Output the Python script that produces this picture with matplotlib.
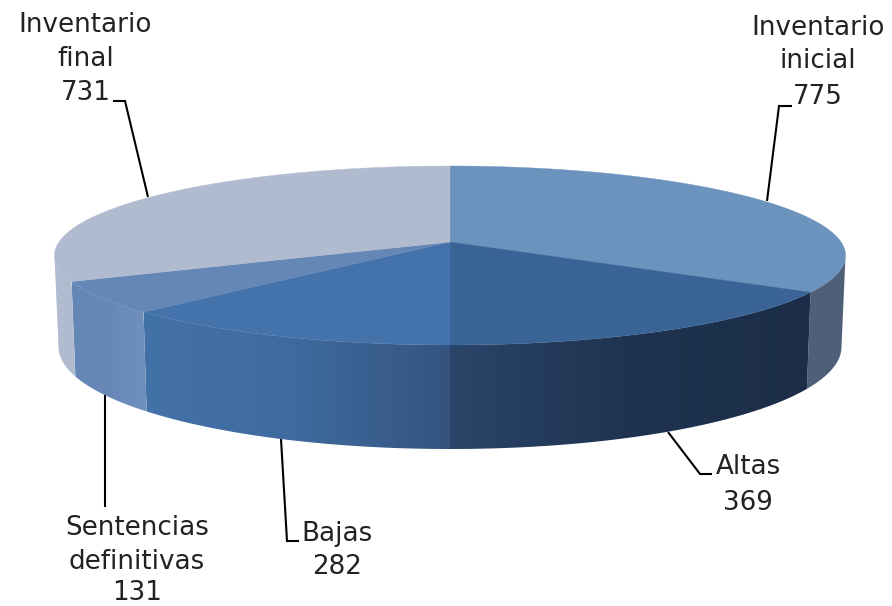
import numpy as np
import matplotlib
matplotlib.use("Agg")
import matplotlib.pyplot as plt
from matplotlib.patches import Polygon
from matplotlib.colors import LinearSegmentedColormap

# Data
categories = ["Inventario inicial", "Altas", "Bajas", "Sentencias definitivas", "Inventario final"]
values = [775, 369, 282, 131, 731]
top_colors = ["#6C93BE", "#3A6496", "#4472AA", "#6587B6", "#B1BBD0"]
wall_colors = [
    ["#4F5F78", "#505F79"],
    ["#2A4569", "#1F3350", "#1B2D48"],
    ["#4372A9", "#3F6A9E", "#34547F"],
    ["#6587B6", "#6889B8", "#7090BE"],
    ["#B3BDD1", "#B1BBD0"],
]
label_texts = [
    ["Inventario", "inicial", "775"],
    ["Altas", "369"],
    ["Bajas", "282"],
    ["Sentencias", "definitivas", "131"],
    ["Inventario", "final", "731"],
]

# Layout
W, H = 892, 606
CX = 450
C = 0.1508
TOP_A, TOP_B, TOP_K = -50.96, 242, 391
BOT_A, BOT_B, BOT_K = -49.8, 331.5, 387
VIS = np.degrees(np.arccos(-C))


def project(deg, a, b, k):
    t = np.radians(np.asarray(deg, dtype=float))
    u, v = np.sin(t), np.cos(t)
    d = 1 + C * v
    return CX + k * u / d, (a * v + b) / d


fig = plt.figure(figsize=(W / 100, H / 100), dpi=100)
ax = fig.add_axes([0, 0, 1, 1])
ax.axis("off")

edges = np.concatenate([[0], np.cumsum(values) / np.sum(values) * 360])

# Walls
for i in range(len(values)):
    a1, a2 = max(edges[i], VIS), min(edges[i + 1], 360 - VIS)
    if a2 <= a1:
        continue
    th = np.linspace(a1, a2, 160)
    x1, y1 = project(th, TOP_A, TOP_B, TOP_K)
    x2, y2 = project(th[::-1], BOT_A, BOT_B, BOT_K)
    pts = np.column_stack([np.r_[x1, x2], np.r_[y1, y2]])
    poly = Polygon(pts, closed=True, fc="none", ec="none", zorder=2)
    ax.add_patch(poly)
    xmin, xmax = pts[:, 0].min(), pts[:, 0].max()
    cmap = LinearSegmentedColormap.from_list("w%d" % i, wall_colors[i])
    g = np.linspace(0, 1, 256).reshape(1, -1)
    im = ax.imshow(g, cmap=cmap, extent=[xmin, xmax, pts[:, 1].max(), pts[:, 1].min()],
                   aspect="auto", zorder=2, interpolation="bilinear")
    im.set_clip_path(poly)

# Top face
for i in range(len(values)):
    th = np.linspace(edges[i], edges[i + 1], 200)
    x, y = project(th, TOP_A, TOP_B, TOP_K)
    pts = np.column_stack([np.r_[CX, x], np.r_[TOP_B, y]])
    ax.add_patch(Polygon(pts, closed=True, fc=top_colors[i], ec=top_colors[i], lw=0.3, zorder=3))

# Leader lines
leaders = [
    [(767, 201), (779, 106), (792, 106)],
    [(668, 432), (700, 474), (712, 474)],
    [(281, 439), (287, 541), (299, 541)],
    [(105, 393), (105, 507)],
    [(148, 197), (125, 101), (113, 101)],
]
for pts in leaders:
    xs, ys = zip(*pts)
    ax.plot(xs, ys, color="black", lw=1.5, zorder=1, solid_joinstyle="miter", solid_capstyle="butt")

# Labels
label_pos = [
    (818, [35, 68, 104]),
    (748, [474, 510]),
    (337, [541, 574]),
    (137, [535, 569, 600]),
    (85.5, [32, 66, 100]),
]
for lines, (x, ys) in zip(label_texts, label_pos):
    for s, y in zip(lines, ys):
        ax.text(x, y, s, ha="center", va="baseline", fontsize=18.8, family="DejaVu Sans",
                color="#222222", zorder=5)

ax.set_xlim(0, W)
ax.set_ylim(H, 0)
fig.savefig("out.png", dpi=100, facecolor="white")
